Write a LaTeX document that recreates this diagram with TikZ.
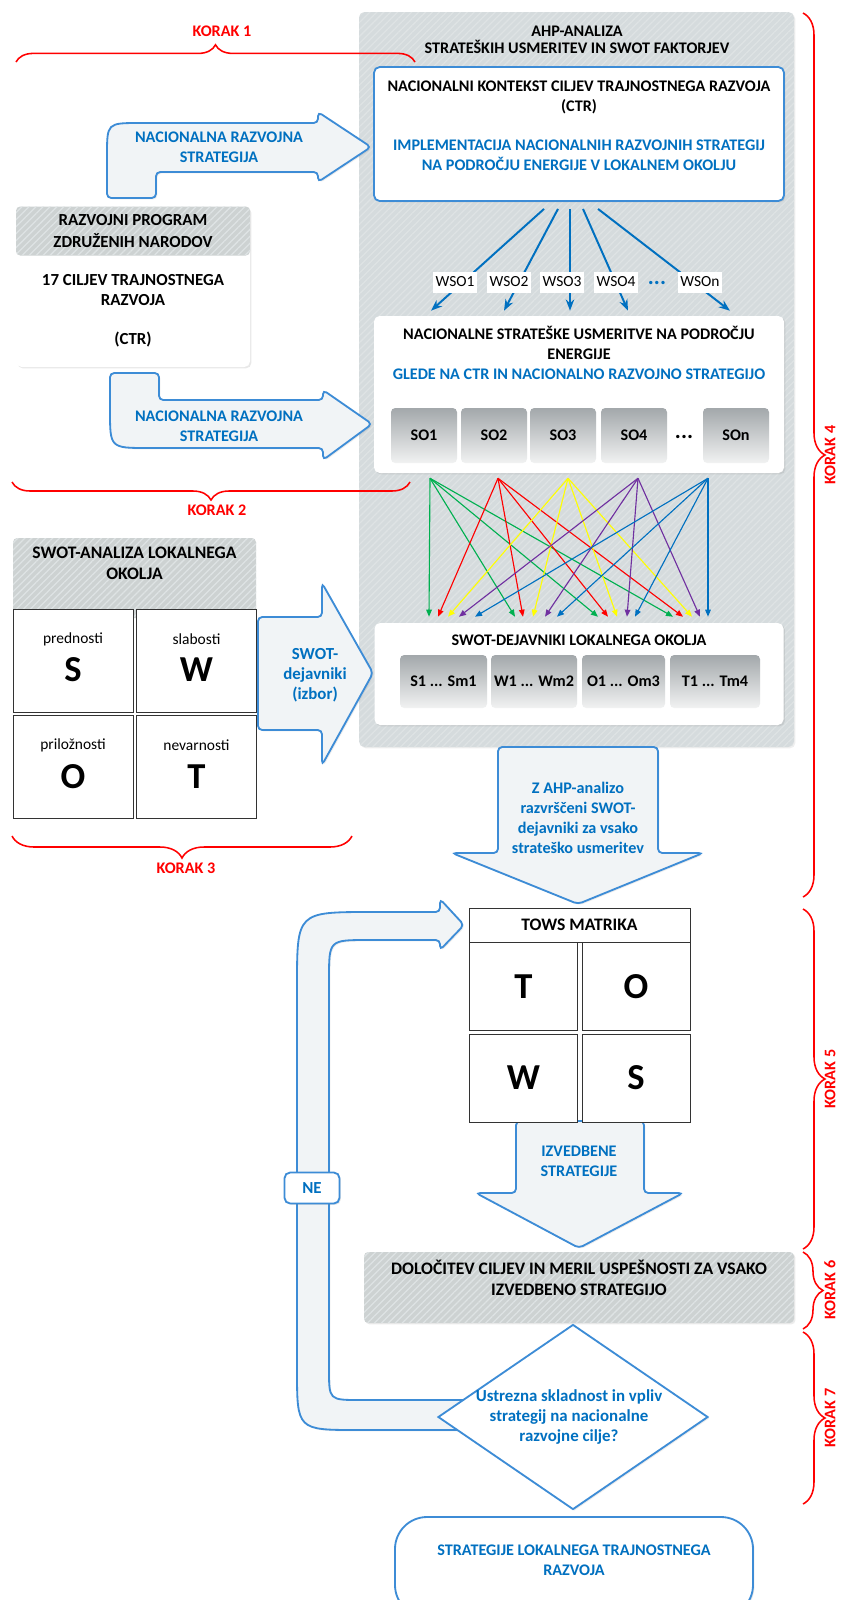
\documentclass[tikz,border=0pt]{standalone}
\usepackage{fontspec}
\setmainfont{Carlito}
\usepackage{tikz}
\usetikzlibrary{arrows.meta,positioning,calc,shapes.geometric,shadows,
                 decorations.pathreplacing,patterns.meta}
\definecolor{AHPBlue}{HTML}{0070C0}
\definecolor{AHPEdge}{HTML}{3D8CD6}
\definecolor{AHPRed}{HTML}{FF0000}
\definecolor{AHPPanel}{HTML}{D5DBDD}
\definecolor{AHPStripe}{HTML}{DEE3E4}
\definecolor{AHPHead}{HTML}{CDD2D2}
\definecolor{AHPFill}{HTML}{F1F4F6}
\definecolor{SODark}{HTML}{A3A8AB}
\definecolor{SOLight}{HTML}{F1F2F2}
\definecolor{SWGreen}{HTML}{00B050}
\definecolor{SWRed}{HTML}{FF0000}
\definecolor{SWYellow}{HTML}{FFFF00}
\definecolor{SWPurple}{HTML}{7030A0}
\definecolor{SWBlue}{HTML}{0070C0}
\newcommand{\pxu}{0.025cm}
\newcommand{\fsz}[2]{\fontsize{#1}{#2}\selectfont}

\begin{document}
\begin{tikzpicture}[x=0.025cm, y=-0.025cm,
  every node/.style={font=\fsz{11.5}{14.2}\bfseries, align=center, inner sep=0pt},
  hatch/.style={postaction={pattern={Lines[angle=45,distance=3.5pt,line width=0.9pt]},
                pattern color=AHPStripe}},
  panel/.style={fill=AHPPanel, hatch, rounded corners=4pt,
                drop shadow={opacity=0.12, shadow xshift=1pt, shadow yshift=-1pt}},
  headbox/.style={fill=AHPHead, hatch, rounded corners=3pt},
  whitebox/.style={fill=white, rounded corners=4pt,
                   drop shadow={opacity=0.18, shadow xshift=1pt, shadow yshift=-1pt}},
  bluebox/.style={whitebox, draw=AHPEdge, line width=1.3pt},
  sobox/.style={top color=SODark, bottom color=SOLight, rounded corners=3pt,
                minimum height=55*\pxu},
  quad/.style={draw=black!80, fill=white, line width=0.7pt},
  wsolbl/.style={fill=white, font=\fsz{11}{13}\mdseries,
                 minimum width=44*\pxu, minimum height=21*\pxu},
  blockarr/.style={fill=AHPFill, draw=AHPEdge, line width=1.3pt, rounded corners=3pt,
                   drop shadow={opacity=0.15, shadow xshift=1pt, shadow yshift=-1pt}},
  bluetxt/.style={text=AHPBlue},
  wsoarr/.style={-{Stealth[length=8pt,width=6pt]}, line width=1.4pt, color=SWBlue},
  swarr/.style={-{Triangle[length=5pt,width=4pt]}, line width=0.8pt},
  korak/.style={font=\fsz{11.5}{13}\bfseries, text=AHPRed},
  korakbrace/.style={draw=AHPRed, line width=1.1pt,
                     decorate, decoration={brace, amplitude=#1}}
]
\useasboundingbox (0,0) rectangle (842,1600);
\fill[white] (0,0) rectangle (842,1600);

% AHP panel
\node[panel, minimum width=435*\pxu, minimum height=735*\pxu] (ahp) at (576.5,379.5) {};
\node[font=\fsz{11.5}{12.2}\bfseries] (ahptitle) at (577,40)
  {AHP-ANALIZA\\STRATEŠKIH USMERITEV IN SWOT FAKTORJEV};

% National context
\node[bluebox, minimum width=410*\pxu, minimum height=134*\pxu] (ctx) at (579,134) {};
\node (ctxtxt) at (579,125.5)
  {NACIONALNI KONTEKST CILJEV TRAJNOSTNEGA RAZVOJA\\(CTR)\\[13.5pt]
   \textcolor{AHPBlue}{IMPLEMENTACIJA NACIONALNIH RAZVOJNIH STRATEGIJ}\\
   \textcolor{AHPBlue}{NA PODROČJU ENERGIJE V LOKALNEM OKOLJU}};

% Strategic orientations
\node[whitebox, minimum width=410*\pxu, minimum height=157*\pxu] (nsu) at (579,394.5) {};
\node (nsutxt) at (579,353)
  {NACIONALNE STRATEŠKE USMERITVE NA PODROČJU\\ENERGIJE\\
   \textcolor{AHPBlue}{GLEDE NA CTR IN NACIONALNO RAZVOJNO STRATEGIJO}};
\foreach \n/\x/\lbl in {so1/424/SO1, so2/494/SO2, so3/563/SO3, so4/634/SO4, son/736/SOn}
  \node[sobox, minimum width=66*\pxu] (\n) at (\x,435.5) {\lbl};
\node[font=\fsz{16}{16}\bfseries] (sodots) at (684,437) {...};

% WSO weights
\foreach \sx/\ex in {-35/-148, -21/-75, -9/-9, 4/49, 19/151}
  \draw[wsoarr] ($(ctx.south)+(\sx,7)$) -- ($(nsu.north)+(\ex,-5)$);
\foreach \n/\x/\lbl in {wso1/455/WSO1, wso2/509/WSO2, wso3/562/WSO3, wso4/616/WSO4, wson/700/WSOn}
  \node[wsolbl] (\n) at (\x,282) {\lbl};
\node[font=\fsz{16}{16}\bfseries, text=SWBlue] (wsodots) at (657,283) {...};

% SWOT factors
\node[whitebox, minimum width=409*\pxu, minimum height=102*\pxu] (swf) at (579,674) {};
\node (swftitle) at (579,640) {SWOT-DEJAVNIKI LOKALNEGA OKOLJA};
\node[sobox, minimum width=87*\pxu, minimum height=53*\pxu] (swfS) at (443.5,681.5) {S1 ... Sm1};
\node[sobox, minimum width=86*\pxu, minimum height=53*\pxu] (swfW) at (534,681.5) {W1 ... Wm2};
\node[sobox, minimum width=83*\pxu, minimum height=53*\pxu] (swfO) at (623.5,681.5) {O1 ... Om3};
\node[sobox, minimum width=90*\pxu, minimum height=53*\pxu] (swfT) at (715,681.5) {T1 ... Tm4};

% SO -> SWOT links
\foreach \col/\sx/\ta/\tb/\tc/\td in {SWGreen/-149/-150/-64/19/94, SWRed/-81/-141/-56/29/104,
    SWYellow/-11/-131/-46/38/113, SWPurple/59/-120/-34/48/121, SWBlue/129/-104/-22/56/129}
  \foreach \tx in {\ta,\tb,\tc,\td}
    \draw[swarr, color=\col] ($(nsu.south)+(\sx,5)$) -- ($(swf.north)+(\tx,-6)$);

% UN programme
\node[whitebox, minimum width=234*\pxu, minimum height=161*\pxu] (undp) at (133,286.5) {};
\node[headbox, minimum width=234*\pxu, minimum height=49*\pxu, font=\fsz{12}{15}\bfseries]
  (undphead) at (133,231) {RAZVOJNI PROGRAM\\ZDRUŽENIH NARODOV};
\node[font=\fsz{12}{14.2}\bfseries] (undptxt) at (133,310.5)
  {17 CILJEV TRAJNOSTNEGA\\RAZVOJA\\[13.5pt](CTR)};

% National strategy arrows
\draw[blockarr] (107,198) -- (107,160) .. controls (107,123) and (107,123) .. (144,123)
  -- (318,123) -- (318,112) -- (371,147) -- (318,182) -- (318,172) -- (156,172) -- (156,198) -- cycle;
\node[bluetxt] (natxt1) at (219,147) {NACIONALNA RAZVOJNA\\STRATEGIJA};
\draw[blockarr] (110,373) -- (159,373) -- (159,400) -- (323,400) -- (323,390) -- (372,424)
  -- (323,460) -- (323,448) -- (152,448) .. controls (110,448) and (110,448) .. (110,406) -- cycle;
\node[bluetxt] (natxt2) at (219,426) {NACIONALNA RAZVOJNA\\STRATEGIJA};

% SWOT analysis
\node[headbox, minimum width=243*\pxu, minimum height=80*\pxu] (swahead) at (134.5,578) {};
\node[font=\fsz{12.5}{15}\bfseries] (swatitle) at (134.5,563.5) {SWOT-ANALIZA LOKALNEGA\\OKOLJA};
\foreach \n/\x/\y/\wrd/\ltr in {swS/73/660.5/prednosti/S, swW/196.5/660.5/slabosti/W,
    swO/73/767/priložnosti/O, swT/196.5/767/nevarnosti/T} {
  \node[quad, minimum width=120*\pxu, minimum height=103*\pxu] (\n) at (\x,\y) {};
  \node[font=\fsz{11}{13}\mdseries] (\n-w) at ($(\n.center)+(0,-21.5)$) {\wrd};
  \node[font=\fsz{26}{28}\bfseries] (\n-l) at ($(\n.center)+(0,9.5)$) {\ltr};
}
\draw[blockarr] (258,617) -- (322,617) -- (322,583) -- (373,673) -- (322,765) -- (322,730)
  -- (258,730) -- cycle;
\node[bluetxt, font=\fsz{12}{14.2}\bfseries] (swdtxt) at (315,675) {SWOT-\\dejavniki\\(izbor)};

% Ranked factors arrow
\draw[blockarr] (498,747) -- (658,747) -- (658,853) -- (703,853) -- (578,904) -- (452,853)
  -- (498,853) -- cycle;
\node[bluetxt] (ahptxt) at (578,817.5)
  {Z AHP-analizo\\razvrščeni SWOT-\\dejavniki za vsako\\strateško usmeritev};

% Strategies arrow
\draw[blockarr] (516,1121) -- (644,1121) -- (644,1193) -- (683,1193) -- (579,1248) -- (476,1193)
  -- (516,1193) -- cycle;
\node[bluetxt] (izvtxt) at (579,1161.5) {IZVEDBENE\\STRATEGIJE};

% TOWS matrix
\node[quad, minimum width=221*\pxu, minimum height=34*\pxu, font=\fsz{12.5}{14}\bfseries]
  (tows) at (579.5,925) {TOWS MATRIKA};
\foreach \n/\x/\y/\ltr in {towsT/523.5/986.5/T, towsO/636/986.5/O, towsW/523.5/1078/W, towsS/636/1078/S}
  \node[quad, minimum width=108*\pxu, minimum height=88*\pxu, font=\fsz{26}{28}\bfseries]
    (\n) at (\x,\y) {\ltr};

% Feedback loop
\draw[blockarr] (470,1430) -- (362,1430) .. controls (297,1430) and (297,1430) .. (297,1365)
  -- (297,990) .. controls (297,912) and (297,912) .. (375,912) -- (440,912) -- (440,899)
  -- (464,925) -- (440,950) -- (440,940) -- (372,940) .. controls (329,940) and (329,940) .. (329,983)
  -- (329,1365) .. controls (329,1400) and (329,1400) .. (364,1400) -- (470,1400) -- cycle;
\node[bluebox, minimum width=55*\pxu, minimum height=31*\pxu, bluetxt, font=\fsz{12}{14}\bfseries]
  (ne) at (312,1188) {NE};

% Goals and criteria
\node[headbox, minimum width=430*\pxu, minimum height=71*\pxu,
  drop shadow={opacity=0.15, shadow xshift=1pt, shadow yshift=-1pt}] (cilji) at (579,1287.5) {};
\node[font=\fsz{12.5}{15}\bfseries] (ciljitxt) at (579,1277.5)
  {DOLOČITEV CILJEV IN MERIL USPEŠNOSTI ZA VSAKO\\IZVEDBENO STRATEGIJO};

% Decision
\node[diamond, draw=AHPEdge, line width=1.3pt, fill=white, minimum width=270*\pxu,
  minimum height=185*\pxu, drop shadow={opacity=0.15, shadow xshift=1pt, shadow yshift=-1pt}]
  (skl) at (573,1417) {};
\node[bluetxt, font=\fsz{12}{14}\bfseries] (skltxt) at (569,1417)
  {Ustrezna skladnost in vpliv\\strategij na nacionalne\\razvojne cilje?};

% Result
\node[bluebox, rounded corners=0.8cm, minimum width=358*\pxu, minimum height=100*\pxu]
  (fin) at (574,1567) {};
\node[bluetxt] (fintxt) at (574,1560) {STRATEGIJE LOKALNEGA TRAJNOSTNEGA\\RAZVOJA};

% Steps
\draw[korakbrace=0.43cm] (16,62) -- (415,62);
\node[korak] (k1) at (222,31) {KORAK 1};
\draw[korakbrace=0.45cm] (410,482) -- (12,482);
\node[korak] (k2) at (217,510) {KORAK 2};
\draw[korakbrace=0.55cm] (352,836) -- (12,836);
\node[korak] (k3) at (186,868) {KORAK 3};
\draw[korakbrace=0.55cm] (803,13) -- (803,897);
\node[korak, rotate=90] (k4) at (830,455) {KORAK 4};
\draw[korakbrace=0.55cm] (803,909) -- (803,1249);
\node[korak, rotate=90] (k5) at (830,1079) {KORAK 5};
\draw[korakbrace=0.5cm] (803,1252) -- (803,1329);
\node[korak, rotate=90] (k6) at (830,1290) {KORAK 6};
\draw[korakbrace=0.55cm] (803,1332) -- (803,1504);
\node[korak, rotate=90] (k7) at (830,1418) {KORAK 7};

\end{tikzpicture}
\end{document}
